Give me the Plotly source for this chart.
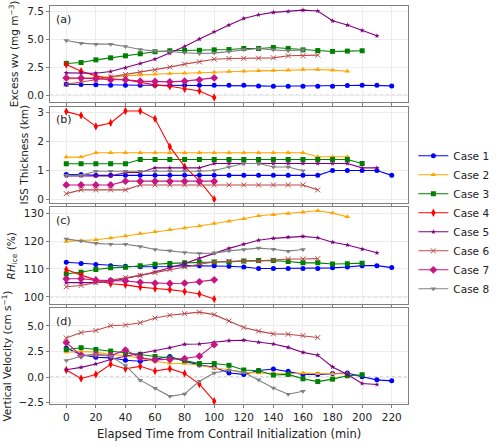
import plotly.graph_objects as go

# ---------------- data ----------------
case_names = ["Case 1", "Case 2", "Case 3", "Case 4", "Case 5", "Case 6", "Case 7", "Case 8"]
time_step = 10  # minutes between points, starting at 0

excess_wv = {
    "Case 1": [0.98, 0.95, 0.92, 0.89, 0.89, 0.89, 0.89, 0.89, 0.89, 0.89, 0.89, 0.89, 0.89, 0.83, 0.80, 0.80, 0.80, 0.80, 0.80, 0.86, 0.89, 0.89, 0.83],
    "Case 2": [1.45, 1.50, 1.54, 1.63, 1.72, 1.81, 1.87, 1.93, 1.96, 2.02, 2.05, 2.11, 2.14, 2.17, 2.20, 2.23, 2.29, 2.29, 2.23, 2.14],
    "Case 3": [2.83, 2.91, 3.15, 3.33, 3.51, 3.69, 3.87, 3.96, 3.98, 4.00, 4.04, 4.07, 4.16, 4.16, 4.25, 4.16, 4.04, 3.98, 3.90, 3.93, 3.96],
    "Case 4": [2.73, 2.14, 1.72, 1.46, 1.37, 1.13, 0.92, 0.80, 0.56, 0.38, -0.21],
    "Case 5": [1.99, 1.99, 1.96, 2.11, 2.44, 2.82, 3.21, 3.75, 4.34, 5.00, 5.65, 6.25, 6.84, 7.17, 7.38, 7.46, 7.58, 7.50, 6.63, 6.25, 5.77, 5.29],
    "Case 6": [0.98, 1.16, 1.37, 1.63, 1.84, 2.05, 2.26, 2.50, 2.77, 2.97, 3.21, 3.27, 3.28, 3.30, 3.33, 3.51, 3.51, 3.57],
    "Case 7": [1.54, 1.54, 1.48, 1.37, 1.37, 1.25, 1.22, 1.19, 1.25, 1.37, 1.54],
    "Case 8": [4.87, 4.64, 4.55, 4.55, 4.34, 4.07, 3.93, 3.90, 3.78, 3.72, 3.75, 3.90, 4.07, 4.16, 4.04, 3.96, 4.04],
}

iss_thickness = {
    "Case 1": [0.86, 0.86] + [0.83] * 16 + [1.0] * 4 + [0.83],
    "Case 2": [1.46, 1.46] + [1.61] * 15 + [1.47] * 3,
    "Case 3": [1.23] * 5 + [1.38] * 15 + [1.24],
    "Case 4": [3.03, 2.90, 2.52, 2.64, 3.05, 3.05, 2.78, 1.82, 1.13, 0.64, 0.01],
    "Case 5": [0.81] * 4 + [0.93] * 2 + [1.09] * 4 + [1.24] * 10 + [1.09, 1.09],
    "Case 6": [0.20] + [0.33] * 4 + [0.50] * 12 + [0.33],
    "Case 7": [0.50] * 4 + [0.63] * 7,
    "Case 8": [0.83, 0.83] + [0.97] * 8 + [1.0, 1.12, 1.24, 1.24, 1.12, 1.12, 0.99],
}

rh_ice = {
    "Case 1": [112.4, 112.0, 111.6, 111.2, 111.0, 110.8, 110.8, 110.9, 111.2, 111.2, 111.2, 111.0, 110.7, 110.2, 110.2, 110.2, 110.2, 110.2, 110.4, 110.7, 111.2, 111.2, 110.5],
    "Case 2": [119.9, 120.1, 120.5, 121.1, 121.8, 122.7, 123.4, 124.1, 124.7, 125.4, 126.3, 127.1, 128.0, 129.1, 129.5, 129.9, 130.4, 130.9, 130.1, 128.7],
    "Case 3": [108.3, 108.8, 109.8, 110.4, 110.6, 111.2, 111.7, 112.0, 112.2, 112.3, 112.5, 112.5, 112.9, 113.0, 113.0, 112.7, 112.2, 112.2, 111.8, 111.9, 112.1],
    "Case 4": [109.8, 107.8, 106.1, 104.7, 104.3, 103.5, 103.0, 102.6, 101.9, 101.0, 99.2],
    "Case 5": [105.1, 105.1, 105.1, 105.5, 106.5, 107.7, 108.9, 110.4, 112.0, 113.8, 115.7, 117.4, 118.9, 120.3, 121.0, 121.4, 121.7, 121.2, 119.6, 118.6, 117.1, 115.8],
    "Case 6": [103.6, 104.1, 105.1, 105.9, 106.9, 107.7, 108.7, 109.8, 110.7, 111.7, 112.5, 112.8, 112.8, 112.9, 113.2, 113.6, 113.6, 113.7],
    "Case 7": [106.5, 106.5, 106.0, 105.8, 105.7, 105.2, 104.9, 104.8, 104.9, 105.4, 106.1],
    "Case 8": [120.8, 120.0, 119.2, 118.9, 118.9, 118.1, 117.0, 116.5, 115.9, 115.6, 115.7, 116.5, 117.0, 117.5, 117.1, 116.4, 117.0],
}

vert_vel = {
    "Case 1": [2.83, 2.18, 1.94, 1.88, 1.64, 1.54, 1.74, 2.01, 1.54, 1.19, 0.95, 0.40, 0.26, 0.65, 0.79, 0.56, 0.26, 0.26, 0.36, 0.40, 0.03, -0.27, -0.37],
    "Case 2": [2.44, 2.50, 2.44, 2.21, 2.11, 1.84, 1.54, 1.35, 1.32, 1.15, 0.89, 0.72, 0.46, 0.40, 0.33, 0.33, 0.40, 0.33, 0.33, 0.33],
    "Case 3": [2.70, 2.87, 2.70, 2.54, 2.41, 2.21, 2.01, 1.88, 1.61, 1.32, 1.32, 1.15, 0.69, 0.62, 0.20, 0.26, -0.17, -0.44, -0.20, 0.13, 0.23],
    "Case 4": [0.69, -0.14, 0.26, 1.25, 0.82, 1.05, 0.59, 0.82, 0.36, -0.69, -2.35],
    "Case 5": [0.72, 0.95, 1.28, 1.71, 2.04, 2.30, 2.54, 2.87, 3.20, 3.23, 3.40, 3.56, 3.60, 3.40, 3.23, 2.90, 2.41, 2.14, 0.99, 0.26, -0.63, -0.73],
    "Case 6": [3.82, 4.35, 4.55, 5.01, 5.08, 5.31, 5.77, 6.04, 6.20, 6.34, 6.10, 5.48, 4.85, 4.49, 4.22, 4.19, 4.06, 3.86],
    "Case 7": [3.37, 2.11, 2.20, 2.10, 2.64, 1.88, 1.68, 1.71, 1.81, 2.04, 3.17],
    "Case 8": [1.61, 2.04, 2.21, 2.04, 1.12, -0.30, -1.09, -1.88, -1.65, -0.40, 0.40, 0.69, 0.46, -0.27, -1.06, -1.68, -1.39],
}

x_ticks = [0, 20, 40, 60, 80, 100, 120, 140, 160, 180, 200, 220]

# ---------------- styles ----------------
colors = {"Case 1": "#0000ff", "Case 2": "#ffa500", "Case 3": "#008000", "Case 4": "#ff0000",
          "Case 5": "#800080", "Case 6": "#bc4a4a", "Case 7": "#c71585", "Case 8": "#808080"}
symbols = {"Case 1": "circle", "Case 2": "triangle-up", "Case 3": "square", "Case 4": "diamond-tall",
           "Case 5": "star", "Case 6": "x-thin-open", "Case 7": "diamond", "Case 8": "triangle-down"}
msize = {"Case 1": 5, "Case 2": 5, "Case 3": 5, "Case 4": 6, "Case 5": 4, "Case 6": 5, "Case 7": 6, "Case 8": 5}

panels = [
    (excess_wv, "Excess wv (mg m<sup>−3</sup>)", [-0.6, 7.95], [0, 2.5, 5, 7.5], ".1f", 0.0, "(a)"),
    (iss_thickness, "ISS Thickness (km)", [-0.11, 3.2], [0, 1, 2, 3], "d", None, "(b)"),
    (rh_ice, "<i>RH</i><sub>ice</sub> (%)", [97.4, 132.1], [100, 110, 120, 130], "d", 100.0, "(c)"),
    (vert_vel, "Vertical Velocity (cm s<sup>−1</sup>)", [-2.63, 6.74], [-2.5, 0, 2.5, 5.0], ".1f", 0.0, "(d)"),
]
domains = [[0.759, 1.0], [0.506, 0.747], [0.251, 0.494], [0.0, 0.241]]

fig = go.Figure()
font = "DejaVu Sans, Verdana, sans-serif"
shapes = []
annotations = []

for i, (data, ytitle, yr, yt, yfmt, ref, label) in enumerate(panels):
    n = i + 1
    xa = "x" if n == 1 else f"x{n}"
    ya = "y" if n == 1 else f"y{n}"
    for name in case_names:
        vals = data[name]
        times = [time_step * k for k in range(len(vals))]
        fig.add_trace(go.Scatter(
            x=times, y=vals, mode="lines+markers", name=name,
            line=dict(color=colors[name], width=1.1),
            marker=dict(symbol=symbols[name], size=msize[name], color=colors[name],
                        line=dict(width=1 if name == "Case 6" else 0, color=colors[name])),
            showlegend=(n == 1), legendgroup=name, xaxis=xa, yaxis=ya,
        ))
    axis_common = dict(showline=True, mirror=True, linecolor="#808080", linewidth=1,
                       showgrid=True, gridcolor="#ececec", gridwidth=0.8, zeroline=False,
                       ticks="outside", ticklen=3, tickcolor="#808080",
                       tickfont=dict(family=font, size=10.5, color="#222"))
    xkey = "xaxis" if n == 1 else f"xaxis{n}"
    ykey = "yaxis" if n == 1 else f"yaxis{n}"
    fig.layout[xkey] = dict(axis_common, domain=[0, 1], anchor=ya, range=[-11, 231],
                            tickvals=x_ticks, showticklabels=(n == 4),
                            **({} if n == 1 else {"matches": "x"}))
    fig.layout[ykey] = dict(axis_common, domain=domains[i], anchor=xa, range=yr,
                            tickvals=yt, tickformat=yfmt,
                            title=dict(text=ytitle, font=dict(family=font, size=10.5, color="#222"), standoff=6))
    if ref is not None:
        shapes.append(dict(type="line", xref="paper", x0=0, x1=1, yref=ya, y0=ref, y1=ref,
                           line=dict(color="#999999", width=0.9, dash="dot"), layer="below"))
    annotations.append(dict(text=label, xref="paper", yref="paper", x=0.012, y=domains[i][1] - 0.012,
                            xanchor="left", yanchor="top", showarrow=False,
                            font=dict(family=font, size=11, color="#222")))

annotations.append(dict(text="Elapsed Time from Contrail Initialization (min)", xref="paper", yref="paper",
                        x=0.5, y=-0.075, xanchor="center", yanchor="middle", showarrow=False,
                        font=dict(family=font, size=11.5, color="#222")))

fig.update_layout(
    width=500, height=446,
    margin=dict(l=46, r=70, t=5, b=42),
    paper_bgcolor="white", plot_bgcolor="white",
    font=dict(family=font, size=10.5, color="#222"),
    shapes=shapes, annotations=annotations,
    legend=dict(x=1.015, y=0.66, xanchor="left", yanchor="top", font=dict(family=font, size=10.5),
                bgcolor="rgba(0,0,0,0)", tracegroupgap=0, itemwidth=30),
)

fig.write_html("out.html")
